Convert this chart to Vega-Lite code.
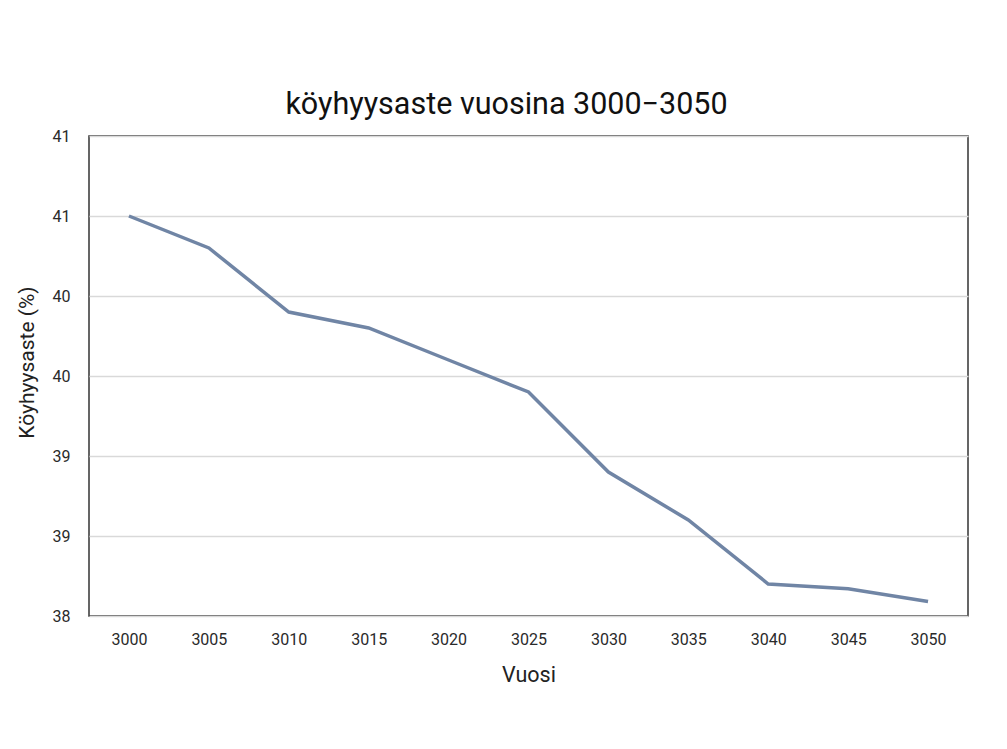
{
  "$schema": "https://vega.github.io/schema/vega-lite/v6.json",
  "width": 879,
  "height": 480,
  "autosize": "none",
  "padding": {"left": 89, "top": 136, "right": 39, "bottom": 133},
  "background": "white",
  "title": {
    "text": "köyhyysaste vuosina 3000−3050",
    "font": "Roboto",
    "fontSize": 30.5,
    "fontWeight": "normal",
    "color": "#111111",
    "anchor": "middle",
    "frame": "group",
    "dx": -22,
    "offset": 8
  },
  "data": {
    "values": [
      {"vuosi": 3000, "koyhyysaste": 40.5},
      {"vuosi": 3005, "koyhyysaste": 40.3},
      {"vuosi": 3010, "koyhyysaste": 39.9},
      {"vuosi": 3015, "koyhyysaste": 39.8},
      {"vuosi": 3020, "koyhyysaste": 39.6},
      {"vuosi": 3025, "koyhyysaste": 39.4},
      {"vuosi": 3030, "koyhyysaste": 38.9},
      {"vuosi": 3035, "koyhyysaste": 38.6},
      {"vuosi": 3040, "koyhyysaste": 38.2},
      {"vuosi": 3045, "koyhyysaste": 38.17},
      {"vuosi": 3050, "koyhyysaste": 38.09}
    ]
  },
  "mark": {"type": "line", "color": "#7085a5", "strokeWidth": 3.5},
  "encoding": {
    "x": {
      "field": "vuosi",
      "type": "ordinal",
      "scale": {"type": "point", "padding": 0.5},
      "axis": {
        "title": "Vuosi",
        "labelAngle": 0,
        "domain": false,
        "ticks": false,
        "tickSize": 0,
        "labelPadding": 15,
        "labelFont": "Roboto",
        "labelFontSize": 16,
        "labelColor": "#2a2a2a",
        "grid": false,
        "titleFont": "Roboto",
        "titleFontSize": 21.5,
        "titleFontWeight": "normal",
        "titleColor": "#222222",
        "titleX": 439.5,
        "titleY": 59,
        "titleBaseline": "middle",
        "titleAlign": "center"
      }
    },
    "y": {
      "field": "koyhyysaste",
      "type": "quantitative",
      "scale": {"domain": [38, 41], "nice": false, "zero": false},
      "axis": {
        "title": "Köyhyysaste (%)",
        "values": [38, 38.5, 39, 39.5, 40, 40.5, 41],
        "format": ".0f",
        "domain": false,
        "ticks": false,
        "tickSize": 0,
        "labelPadding": 19,
        "labelFont": "Roboto",
        "labelFontSize": 16,
        "labelColor": "#2a2a2a",
        "grid": true,
        "gridColor": "#d9d9d9",
        "gridWidth": 1.5,
        "titleFont": "Roboto",
        "titleFontSize": 21,
        "titleFontWeight": "normal",
        "titleColor": "#222222",
        "titleAngle": -90,
        "titleX": -61.5,
        "titleY": 226,
        "titleBaseline": "middle",
        "titleAlign": "center"
      }
    }
  },
  "config": {
    "view": {"stroke": "#333333", "strokeWidth": 1.5},
    "font": "Roboto"
  }
}
